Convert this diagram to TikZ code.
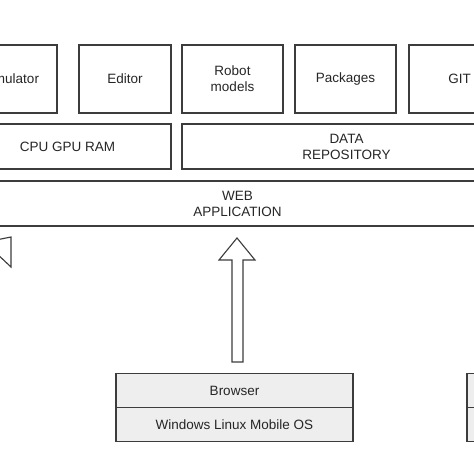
\documentclass[tikz,border=0pt]{standalone}
\usepackage{fontspec}
\setmainfont{Liberation Sans}
\usetikzlibrary{positioning}
\definecolor{edge}{HTML}{3C3C3C}
\definecolor{osfill}{HTML}{EEEEEE}
\tikzset{
  layer/.style={draw=edge, line width=1.1pt, align=center, inner sep=0pt, outer sep=0pt,
    text=black!85, font=\fontsize{13.5}{16}\selectfont},
  tool/.style={layer, minimum width=101, minimum height=68},
  client/.style={layer, fill=osfill, minimum width=237, minimum height=34},
}

\begin{document}
\begin{tikzpicture}[x=1pt,y=-1pt]
  \useasboundingbox (0,0) rectangle (474,474);
  \clip (0,0) rectangle (474,474);
  \fill[white] (0,0) rectangle (474,474);
  % tools row
  \node[tool, minimum width=93] (sim) at (10.5,79) {Simulator};
  \node[tool, minimum width=92] (editor) at (125,79) {Editor};
  \node[tool] (robot) at (232.5,79) {Robot\\models};
  \node[tool] (pkgs) at (345.5,79) {Packages};
  \node[tool] (git) at (459.5,79) {GIT};
  % resources
  \node[layer, minimum width=207, minimum height=45] (cpu) at (67.5,146.5) {CPU GPU RAM};
  \node[layer, minimum width=329, minimum height=45] (data) at (346.5,146.5) {DATA\\REPOSITORY};
  \node[layer, minimum width=548, minimum height=45] (web) at (237.5,203.5) {WEB\\APPLICATION};
  % clients
  \node[client] (browser) at (234.5,390.5) {Browser};
  \node[client, below=0pt of browser] (os) {Windows Linux Mobile OS};
  \node[client] (browserB) at (585.5,390.5) {};
  \node[client, below=0pt of browserB] (osB) {};
  % access arrows
  \coordinate (tip) at (237,238);
  \draw[edge, line width=1.1pt, fill=white, line join=miter]
    (tip) -- ++(18,22) -- ++(-12,0) -- ++(0,102) -- ++(-11,0)
    -- ++(0,-102) -- ++(-13,0) -- cycle;
  \draw[edge, line width=1.1pt, fill=white]
    (-4,240) -- (11,237) -- (11,267) -- (-6,251);
\end{tikzpicture}
\end{document}
